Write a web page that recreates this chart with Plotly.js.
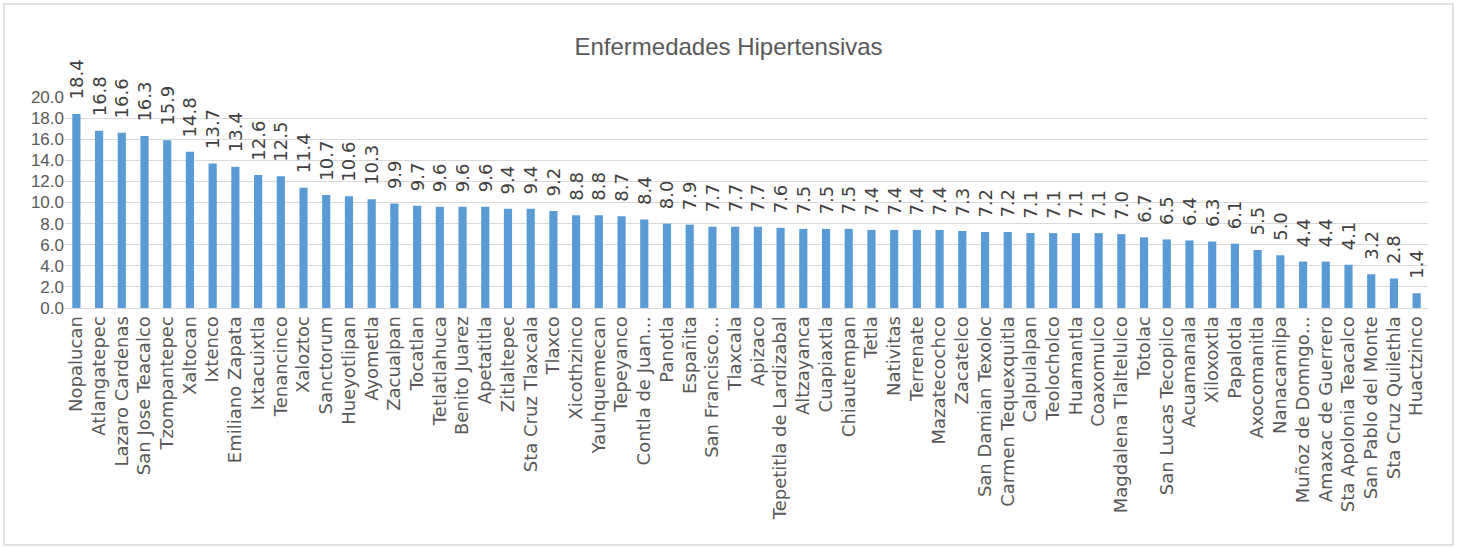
<!DOCTYPE html>
<html>
<head>
<meta charset="utf-8">
<script src="https://cdn.plot.ly/plotly-3.0.1.min.js"></script>
<style>html,body{margin:0;padding:0;background:#fff;}#chart{width:1457px;height:547px;}</style>
</head>
<body>
<div id="chart"></div>
<script>
const municipios = ["Nopalucan","Atlangatepec","Lazaro Cardenas","San Jose Teacalco","Tzompantepec","Xaltocan","Ixtenco","Emiliano Zapata","Ixtacuixtla","Tenancinco","Xaloztoc","Sanctorum","Hueyotlipan","Ayometla","Zacualpan","Tocatlan","Tetlatlahuca","Benito Juarez","Apetatitla","Zitlaltepec","Sta Cruz Tlaxcala","Tlaxco","Xicothzinco","Yauhquemecan","Tepeyanco","Contla de Juan…","Panotla","Españita","San Francisco…","Tlaxcala","Apizaco","Tepetitla de Lardizabal","Altzayanca","Cuapiaxtla","Chiautempan","Tetla","Nativitas","Terrenate","Mazatecochco","Zacatelco","San Damian Texoloc","Carmen Tequexquitla","Calpulalpan","Teolocholco","Huamantla","Coaxomulco","Magdalena Tlaltelulco","Totolac","San Lucas Tecopilco","Acuamanala","Xiloxoxtla","Papalotla","Axocomanitla","Nanacamilpa","Muñoz de Domngo…","Amaxac de Guerrero","Sta Apolonia Teacalco","San Pablo del Monte","Sta Cruz Quilethla","Huactzinco"];
const tasas = [18.4,16.8,16.6,16.3,15.9,14.8,13.7,13.4,12.6,12.5,11.4,10.7,10.6,10.3,9.9,9.7,9.6,9.6,9.6,9.4,9.4,9.2,8.8,8.8,8.7,8.4,8.0,7.9,7.7,7.7,7.7,7.6,7.5,7.5,7.5,7.4,7.4,7.4,7.4,7.3,7.2,7.2,7.1,7.1,7.1,7.1,7.0,6.7,6.5,6.4,6.3,6.1,5.5,5.0,4.4,4.4,4.1,3.2,2.8,1.4];
const yTicks = [0,2,4,6,8,10,12,14,16,18,20];
const titulo = "Enfermedades Hipertensivas";

const ROT_FONT = "'DejaVu Sans', sans-serif";
const FLAT_FONT = "'Liberation Sans', Arial, sans-serif";
const PAD = "\u00A0\u00A0"; // gap between bar end and its rotated label

const trace = {
  type: 'bar',
  x: municipios,
  y: tasas,
  marker: {color: '#5b9bd5'},
  text: tasas.map(v => PAD + v.toFixed(1)),
  textposition: 'outside',
  textangle: -90,
  constraintext: 'none',
  cliponaxis: false,
  textfont: {family: ROT_FONT, size: 18, color: '#404040'},
  hoverinfo: 'x+y'
};

const layout = {
  width: 1457,
  height: 547,
  margin: {l: 65, r: 29, t: 97, b: 239},
  paper_bgcolor: '#ffffff',
  plot_bgcolor: '#ffffff',
  bargap: 0.64,
  showlegend: false,
  title: {
    text: titulo,
    font: {family: FLAT_FONT, size: 24, color: '#595959'},
    x: 0.5, xanchor: 'center',
    y: 0.915, yanchor: 'middle'
  },
  xaxis: {
    type: 'category',
    tickangle: -90,
    tickfont: {family: ROT_FONT, size: 18, color: '#595959'},
    showline: true,
    linecolor: '#d9d9d9',
    linewidth: 1,
    ticks: '',
    showgrid: false,
    automargin: false
  },
  yaxis: {
    range: [0, 20],
    tickvals: yTicks,
    ticktext: yTicks.map(v => v.toFixed(1)),
    tickfont: {family: FLAT_FONT, size: 17, color: '#595959'},
    showgrid: true,
    gridcolor: '#d9d9d9',
    gridwidth: 1,
    zeroline: false,
    showline: false,
    ticks: '',
    ticklen: 0,
    automargin: false
  },
  shapes: [{
    type: 'rect', xref: 'paper', yref: 'paper',
    x0: -0.0448, x1: 1.0183, y0: -1.1232, y1: 1.4408,
    line: {color: '#d9d9d9', width: 1.5},
    fillcolor: 'rgba(0,0,0,0)',
    layer: 'below'
  }]
};

Plotly.newPlot('chart', [trace], layout, {displayModeBar: false, staticPlot: true});
</script>
</body>
</html>
